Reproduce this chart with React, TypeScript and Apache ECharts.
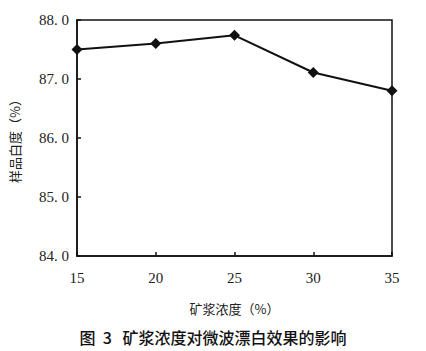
import React, { useEffect, useRef } from "react";
import * as echarts from "echarts";

const xValues = [15, 20, 25, 30, 35];
const whiteness = [87.5, 87.6, 87.74, 87.11, 86.8];
const xAxisName = "矿浆浓度（%）";
const yAxisName = "样品白度（%）";
const caption = "图  3   矿浆浓度对微波漂白效果的影响";

export default function App() {
  const ref = useRef<HTMLDivElement>(null);
  useEffect(() => {
    const chart = echarts.init(ref.current!, null, { renderer: "svg" });
    const serif = "'Liberation Serif', 'DejaVu Serif', serif";
    const cjk = "'Noto Sans CJK SC', sans-serif";
    chart.setOption({
      animation: false,
      backgroundColor: "#fff",
      grid: {
        left: 76,
        right: 34,
        top: 20,
        bottom: 95,
        show: true,
        borderColor: "#111",
        borderWidth: 1.5,
        backgroundColor: "transparent",
      },
      xAxis: {
        type: "value",
        min: 15,
        max: 35,
        interval: 5,
        axisLine: { lineStyle: { color: "#111", width: 1.5 } },
        axisTick: { inside: true, length: 4, lineStyle: { color: "#111", width: 1.5 } },
        splitLine: { show: false },
        axisLabel: { color: "#222", fontFamily: serif, fontSize: 15, margin: 14 },
        name: xAxisName,
        nameLocation: "middle",
        nameGap: 46,
        nameTextStyle: { color: "#222", fontFamily: cjk, fontSize: 13 },
      },
      yAxis: {
        type: "value",
        min: 84,
        max: 88,
        interval: 1,
        axisLine: { lineStyle: { color: "#111", width: 1.5 } },
        axisTick: { inside: true, length: 4, lineStyle: { color: "#111", width: 1.5 } },
        splitLine: { show: false },
        axisLabel: {
          color: "#222",
          fontFamily: serif,
          fontSize: 15,
          margin: 8,
          formatter: (v: number) => v.toFixed(1).replace(".", ". "),
        },
        name: yAxisName,
        nameLocation: "middle",
        nameGap: 56,
        nameTextStyle: { color: "#222", fontFamily: cjk, fontSize: 13 },
      },
      graphic: [
        {
          type: "text",
          left: "center",
          top: 329,
          style: {
            text: caption,
            fontFamily: cjk,
            fontSize: 16,
            fontWeight: 500,
            fill: "#111",
          },
        },
      ],
      series: [
        {
          type: "line",
          data: xValues.map((x, i) => [x, whiteness[i]]),
          symbol: "diamond",
          symbolSize: 11,
          itemStyle: { color: "#111" },
          lineStyle: { color: "#111", width: 2 },
        },
      ],
    });
    return () => chart.dispose();
  }, []);
  return (
    <div
      ref={ref}
      style={{ position: "absolute", left: 0, top: 0, width: 426, height: 351 }}
    />
  );
}
